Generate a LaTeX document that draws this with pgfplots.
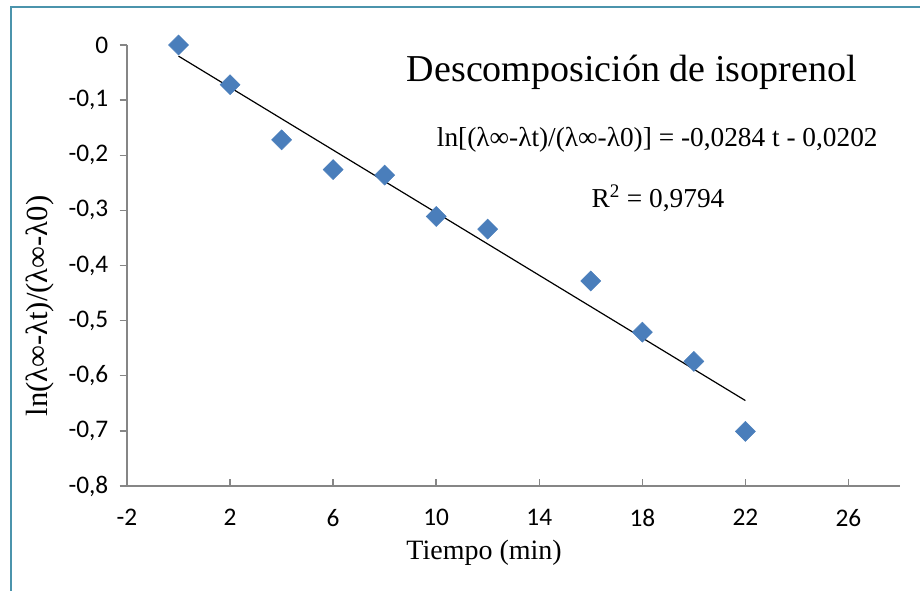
\documentclass[border=0pt]{standalone}
\usepackage{fontspec}
\setmainfont{Liberation Serif}
\newfontfamily\calibri{Carlito}
\usepackage{pgfplots}
\pgfplotsset{compat=1.18}

\definecolor{framecol}{RGB}{75,148,172}
\definecolor{markblue}{RGB}{74,126,187}
\definecolor{axisgray}{RGB}{134,134,134}

\begin{document}
\begin{tikzpicture}
\useasboundingbox (0,0) rectangle (690pt,442.5pt);
% chart-area border (top and left edges)
\draw[framecol, line width=1.6pt] (8.25pt,-20pt) -- (8.25pt,437.25pt) -- (720pt,437.25pt);
\begin{axis}[
  at={(95.25pt,78pt)}, anchor=south west,
  scale only axis, width=579.75pt, height=330.75pt,
  xmin=-2, xmax=28, ymin=-0.8, ymax=0,
  axis lines=left,
  axis line style={-, axisgray, line width=1.1pt},
  every tick/.style={axisgray, line width=1.1pt},
  major tick length=5.5pt,
  xtick align=inside, ytick align=outside,
  xtick={-2,2,6,10,14,18,22,26},
  xticklabels={-2,2,6,10,14,18,22,26},
  ytick={-0.8,-0.7,-0.6,-0.5,-0.4,-0.3,-0.2,-0.1,0},
  yticklabels={{-0,8},{-0,7},{-0,6},{-0,5},{-0,4},{-0,3},{-0,2},{-0,1},{0}},
  tick label style={font=\calibri\fontsize{19pt}{21pt}\selectfont, text=black},
  xticklabel style={yshift=-14pt},
  yticklabel style={xshift=-5pt},
  xlabel={Tiempo (min)},
  xlabel style={at={(axis description cs:0.462,-0.152)}, anchor=center, font=\fontsize{21pt}{24pt}\selectfont},
  ylabel={ln(λ∞-λt)/(λ∞-λ0)},
  ylabel style={at={(axis description cs:-0.1125,0.408)}, anchor=center, font=\fontsize{23pt}{26pt}\selectfont},
  clip=false,
]
% measured values
\addplot[only marks, mark=square*, mark size=5.3pt,
  mark options={rotate=45, fill=markblue, draw=markblue}]
  coordinates {
  (0,0) (2,-0.072) (4,-0.172) (6,-0.226) (8,-0.236) (10,-0.311)
  (12,-0.334) (16,-0.428) (18,-0.521) (20,-0.574) (22,-0.701)
  };
% linear fit: -0.0284 t - 0.0202
\addplot[black, line width=0.9pt] coordinates {(0,-0.0202) (22,-0.6450)};
\node[font=\fontsize{28.5pt}{32pt}\selectfont] at (axis description cs:0.653,0.939) {Descomposición de isoprenol};
\node[font=\fontsize{20.5pt}{24pt}\selectfont] at (axis description cs:0.686,0.785) {ln[(λ∞-λt)/(λ∞-λ0)] = -0,0284 t - 0,0202};
\node[font=\fontsize{20.5pt}{24pt}\selectfont] at (axis description cs:0.687,0.653) {R\textsuperscript{2} = 0,9794};
\end{axis}
\end{tikzpicture}
\end{document}
